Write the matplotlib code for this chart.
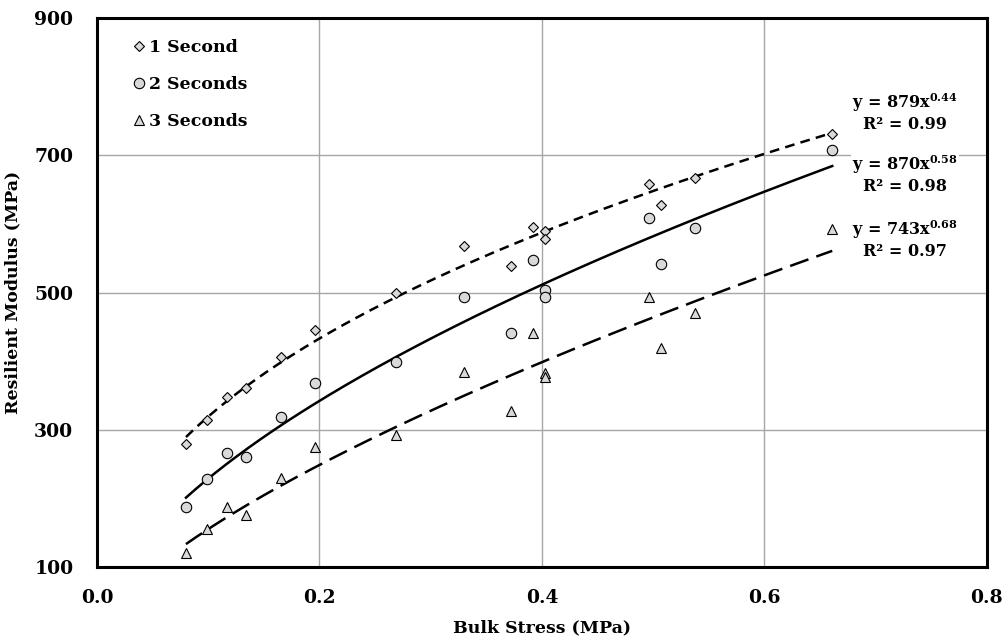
import numpy as np
import matplotlib
matplotlib.use("Agg")
import matplotlib.pyplot as plt

plt.rcParams['font.family'] = ['DejaVu Serif']
plt.rcParams['font.weight'] = 'bold'
plt.rcParams['mathtext.fontset'] = 'dejavuserif'
plt.rcParams['lines.scale_dashes'] = False

bulk_stress = [0.080, 0.099, 0.117, 0.134, 0.165, 0.196, 0.269, 0.330,
               0.372, 0.392, 0.403, 0.403, 0.496, 0.507, 0.538, 0.661]
mr_1s = [279, 314, 347, 361, 406, 445, 499, 568, 539, 595, 590, 578, 658, 627, 667, 731]
mr_2s = [187, 228, 266, 261, 318, 368, 399, 494, 441, 547, 503, 493, 608, 542, 594, 707]
mr_3s = [120, 156, 188, 176, 229, 275, 292, 384, 327, 441, 383, 377, 494, 419, 470, 593]

series_labels = ['1 Second', '2 Seconds', '3 Seconds']
coef_a = [879, 870, 743]
coef_b = [0.44, 0.58, 0.68]
r_squared = [0.99, 0.98, 0.97]

x_ticks = [0.0, 0.2, 0.4, 0.6, 0.8]
y_ticks = [100, 300, 500, 700, 900]

fig = plt.figure(figsize=(10.07, 6.43), dpi=100)
ax = fig.add_axes([0.0963, 0.1182, 0.8837, 0.8538])

series = [mr_1s, mr_2s, mr_3s]
markers = ['D', 'o', '^']
msizes = [5.0, 7.5, 7.5]
dashes = [(7, 4.5), None, (14, 6)]

xs = np.array(bulk_stress)
xfit = np.linspace(xs.min(), xs.max(), 200)
for vals, lab, mk, ms, a, b, d in zip(series, series_labels, markers, msizes, coef_a, coef_b, dashes):
    yfit = a * xfit ** b
    line, = ax.plot(xfit, yfit, color='black', lw=1.8, zorder=3)
    if d is not None:
        line.set_dashes(d)
    ax.plot(xs, vals, linestyle='none', marker=mk, ms=ms, mfc='#d9d9d9',
            mec='black', mew=0.8, label=lab, zorder=4)

ax.set_xlim(0, 0.8)
ax.set_ylim(100, 900)
ax.set_xticks(x_ticks)
ax.set_xticklabels([f'{t:.1f}' for t in x_ticks])
ax.set_yticks(y_ticks)
ax.grid(True, color='#a6a6a6', lw=1.0)
ax.set_axisbelow(True)
ax.tick_params(length=0, labelsize=13.5)
ax.tick_params(axis='x', pad=16)
ax.tick_params(axis='y', pad=17)
for lbl in ax.get_xticklabels() + ax.get_yticklabels():
    lbl.set_fontweight('bold')
for s in ax.spines.values():
    s.set_linewidth(2.2)
    s.set_color('black')

ax.set_xlabel('Bulk Stress (MPa)', fontsize=12.5, fontweight='bold', labelpad=9)
ax.set_ylabel('Resilient Modulus (MPa)', fontsize=12.5, fontweight='bold')
ax.yaxis.set_label_coords(-0.085, 0.5)

leg = ax.legend(loc='upper left', frameon=False, fontsize=12.5, handletextpad=0.1,
                handlelength=1.0, labelspacing=1.15, bbox_to_anchor=(0.02, 0.99))
for t in leg.get_texts():
    t.set_fontweight('bold')

eq_pos = [(0.908, 0.828), (0.908, 0.716), (0.908, 0.597)]
for (px, py), a, b, r2 in zip(eq_pos, coef_a, coef_b, r_squared):
    txt = f'y = {a}x$^{{\\mathbf{{{b:.2f}}}}}$\nR² = {r2:.2f}'
    ax.text(px, py, txt, transform=ax.transAxes, ha='center', va='center',
            fontsize=11.5, fontweight='bold', linespacing=1.15, zorder=5,
            bbox=dict(facecolor='white', edgecolor='none', pad=1))

fig.savefig('out.png', dpi=100)
